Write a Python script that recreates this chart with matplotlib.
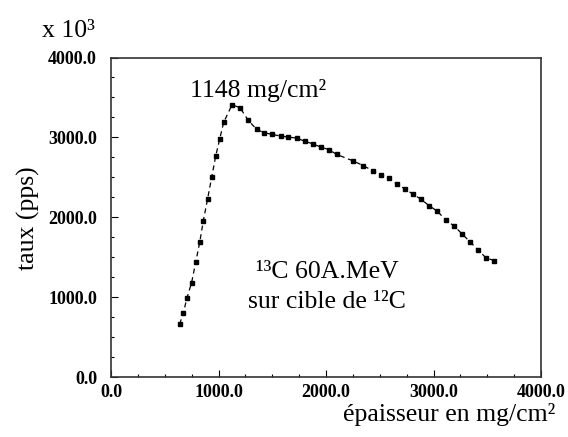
import matplotlib
matplotlib.use('Agg')
import matplotlib.pyplot as plt
from matplotlib.ticker import MultipleLocator, FormatStrFormatter

plt.rcParams['font.family'] = ['Liberation Serif', 'DejaVu Serif']

# épaisseur (mg/cm2) et taux (x 10^3 pps)
epaisseur = [639, 673, 707, 750, 788, 825, 859, 899, 937, 974, 1011, 1048,
             1125, 1200, 1275, 1355, 1423, 1501, 1578, 1649, 1727, 1805,
             1876, 1951, 2028, 2099, 2254, 2347, 2434, 2512, 2586, 2664,
             2735, 2812, 2884, 2958, 3036, 3116, 3191, 3262, 3340, 3411,
             3488, 3563]
taux = [662, 804, 991, 1183, 1437, 1684, 1958, 2233, 2504, 2766, 2979, 3187,
        3406, 3373, 3216, 3100, 3058, 3037, 3016, 3004, 2991, 2950,
        2920, 2879, 2846, 2787, 2704, 2646, 2583, 2533, 2487, 2412,
        2354, 2287, 2225, 2146, 2075, 1962, 1892, 1796, 1692, 1596,
        1492, 1458]

fig = plt.figure(figsize=(5.68, 4.37), dpi=100)
ax = fig.add_axes([111/568, 1 - 377/437, 430/568, 319.5/437])

ax.plot(epaisseur, taux, color='black', linestyle=(0, (4, 3)), linewidth=0.9,
        marker='s', markersize=3, markerfacecolor='black', markeredgecolor='black')

ax.set_xlim(0, 4000)
ax.set_ylim(0, 4000)
ax.xaxis.set_major_locator(MultipleLocator(1000))
ax.xaxis.set_minor_locator(MultipleLocator(250))
ax.yaxis.set_major_locator(MultipleLocator(1000))
ax.yaxis.set_minor_locator(MultipleLocator(250))
ax.xaxis.set_major_formatter(FormatStrFormatter('%.1f'))
ax.yaxis.set_major_formatter(FormatStrFormatter('%.1f'))
ax.tick_params(which='both', direction='in', top=False, right=False, width=0.8)
ax.tick_params(which='major', length=5, labelsize=13)
ax.tick_params(which='minor', length=2.5)
ax.tick_params(axis='x', pad=5)
ax.tick_params(axis='y', pad=10)
for lab in ax.get_xticklabels() + ax.get_yticklabels():
    lab.set_fontweight('bold')
for sp in ax.spines.values():
    sp.set_linewidth(1.2)
    sp.set_color('#333333')

ax.text(735, 3504, '1148 mg/cm²', fontsize=18.5, ha='left', va='baseline')
ax.text(2009, 1237, '¹³C 60A.MeV', fontsize=18.5, ha='center', va='baseline')
ax.text(2009, 862, 'sur cible de ¹²C', fontsize=18.5, ha='center', va='baseline')

fig.text(42/568, 1 - 37/437, 'x 10³', fontsize=18.5, ha='left', va='baseline')
fig.text(28/568, 1 - 218/437, 'taux (pps)', fontsize=18.5, rotation=90,
         ha='center', va='center')
fig.text(555/568, 1 - 421/437, 'épaisseur en mg/cm²', fontsize=18.5,
         ha='right', va='baseline')

fig.savefig('out.png', dpi=100)
